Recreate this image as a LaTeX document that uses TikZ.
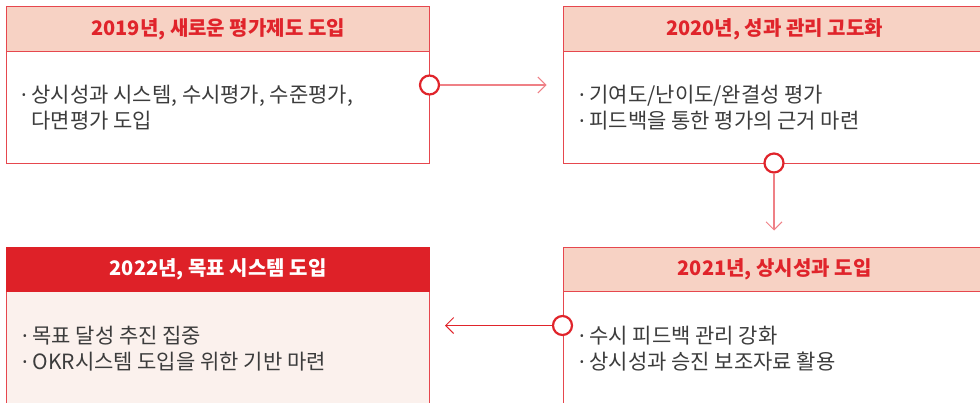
\documentclass[tikz,border=0pt]{standalone}
\usepackage{fontspec}
\setmainfont{Noto Sans CJK KR}
\newfontfamily\latinfont{Noto Sans}
\usetikzlibrary{arrows.meta}
\definecolor{bordr}{HTML}{E6474E}
\definecolor{hdrfill}{HTML}{F7D2C4}
\definecolor{redtxt}{HTML}{E0242B}
\definecolor{redfill}{HTML}{DE2128}
\definecolor{bodyfill}{HTML}{FBF1ED}
\definecolor{graytxt}{HTML}{3C3C3C}
\definecolor{pinkline}{HTML}{EF8086}
\newcommand{\bul}{{\latinfont ·} }
\newcommand{\bulgap}{\hphantom{{\latinfont ·} }}
\tikzset{
  hdr/.style={draw=bordr, line width=1.2pt, fill=hdrfill, minimum height=45pt, inner sep=0pt, anchor=north west, text=redtxt, font=\fontsize{20}{22}\selectfont\bfseries},
  hdrdark/.style={hdr, draw=redfill, fill=redfill, text=white},
  bodybox/.style={draw=bordr, line width=1.2pt, fill=white, inner sep=0pt, anchor=north west},
  bodytxt/.style={anchor=west, align=left, inner sep=0pt, text=graytxt, font=\fontsize{21}{26}\selectfont},
  knob/.style={circle, draw=redtxt, line width=2.2pt, fill=white, minimum size=19pt, inner sep=0pt},
  pinkarrow/.style={draw=pinkline, line width=1.3pt, -{Straight Barb[length=8pt,width=16pt,line width=1pt]}},
  redarrow/.style={draw=redtxt, line width=1.1pt, -{Straight Barb[length=8pt,width=16pt,line width=1pt]}},
}
\begin{document}
\begin{tikzpicture}[x=1pt,y=-1pt]
\useasboundingbox (0,0) rectangle (980,402);
\clip (0,0) rectangle (980,402);
% box 1 (2019)
\node[bodybox, minimum width=423pt, minimum height=112pt] (b1) at (6,51) {};
\node[hdr, minimum width=423pt] (h1) at (6,6) {2019년, 새로운 평가제도 도입};
\node[bodytxt] (t1) at (21,108) {\bul 상시성과 시스템, 수시평가, 수준평가,\\\bulgap 다면평가 도입};
% box 2 (2020)
\node[bodybox, minimum width=423pt, minimum height=112pt] (b2) at (562.5,51) {};
\node[hdr, minimum width=423pt] (h2) at (562.5,6) {2020년, 성과 관리 고도화};
\node[bodytxt] (t2) at (579,108) {\bul 기여도/난이도/완결성 평가\\\bul 피드백을 통한 평가의 근거 마련};
% box 3 (2021)
\node[bodybox, minimum width=423pt, minimum height=113pt] (b3) at (562.5,291) {};
\node[hdr, minimum width=423pt, minimum height=44.5pt] (h3) at (562.5,246.5) {2021년, 상시성과 도입};
\node[bodytxt] (t3) at (579,349) {\bul 수시 피드백 관리 강화\\\bul 상시성과 승진 보조자료 활용};
% box 4 (2022)
\node[bodybox, fill=bodyfill, minimum width=423pt, minimum height=113pt] (b4) at (6,291) {};
\node[hdrdark, minimum width=423pt, minimum height=44.5pt] (h4) at (6,246.5) {2022년, 목표 시스템 도입};
\node[bodytxt] (t4) at (22,349) {\bul 목표 달성 추진 집중\\\bul OKR시스템 도입을 위한 기반 마련};
% connectors
\node[knob] (k1) at (429.5,85) {};
\coordinate (e1) at (546.5,85);
\draw[pinkarrow] (k1) -- (e1);
\node[knob] (k2) at (774,163) {};
\coordinate (e2) at (774,230.5);
\draw[pinkarrow] (k2) -- (e2);
\node[knob] (k3) at (562.5,325.5) {};
\coordinate (e3) at (445,325.5);
\draw[redarrow] (k3) -- (e3);
\end{tikzpicture}
\end{document}
